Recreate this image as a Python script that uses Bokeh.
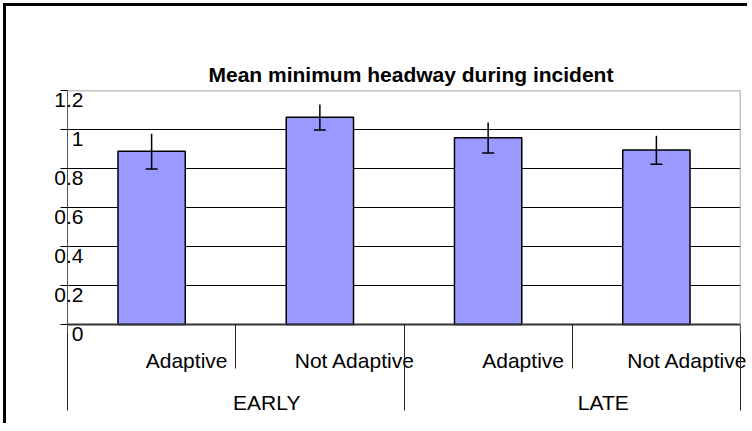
from bokeh.plotting import figure
from bokeh.models import (Range1d, ColumnDataSource, Whisker, TeeHead, Title,
                          FixedTicker, Span, LinearAxis, LinearScale)
from bokeh.embed import file_html
from bokeh.resources import INLINE

# ---- data ----
title_text = "Mean minimum headway during incident"
groups = ["EARLY", "EARLY", "LATE", "LATE"]
conditions = ["Adaptive", "Not Adaptive", "Adaptive", "Not Adaptive"]
means = [0.888, 1.063, 0.958, 0.895]
errors = [0.090, 0.065, 0.078, 0.073]
y_ticks = [0, 0.2, 0.4, 0.6, 0.8, 1.0, 1.2]
y_tick_labels = ["0", "0.2", "0.4", "0.6", "0.8", "1", "1.2"]
group_names = ["EARLY", "LATE"]

FONT = "Liberation Sans"

n = len(conditions)
# one unit per category; bar sits in the middle of its slot
slot_centers = [i + 0.5 for i in range(n)]
src = ColumnDataSource(dict(
    x=slot_centers, top=means,
    upper=[m + e for m, e in zip(means, errors)],
    lower=[m - e for m, e in zip(means, errors)],
))

# layout constants (pixels)
CAT_PX = (740 - 67) / n
PX_PER_UNIT = 195.0
LABEL_DROP = 9  # y tick labels sit just under their grid line
pad = LABEL_DROP / PX_PER_UNIT

p = figure(x_range=Range1d(0, n), y_range=Range1d(-pad, y_ticks[-1]),
           x_axis_location=None,
           width=744, height=420, output_backend="svg", toolbar_location=None,
           min_border_left=61, min_border_top=84, min_border_right=10, min_border_bottom=93)
p.styles = {"margin-left": "3px", "margin-top": "3px",
            "border-left": "3px solid black", "border-top": "3px solid black"}
p.background_fill_color = "white"
p.border_fill_color = "white"
p.outline_line_color = None
p.xgrid.visible = False

# the title, then an invisible spacer between it and the frame
p.add_layout(Title(text=title_text, align="left", offset=141,
                   text_font=FONT, text_font_size="21px", text_font_style="bold",
                   text_color="black"), "above")
p.add_layout(Title(text=" ", text_font_size="1px", text_color=None, standoff=32), "above")

# main y axis: tick marks only
ya = p.yaxis[0]
ya.ticker = FixedTicker(ticks=y_ticks, minor_ticks=[])
ya.major_label_text_font_size = "1px"
ya.major_label_text_color = None
ya.major_label_standoff = 0
ya.major_tick_out = 7
ya.major_tick_in = 0
ya.minor_tick_out = 0
ya.minor_tick_in = 0
ya.major_tick_line_color = "black"
ya.axis_line_color = "#555555"
p.ygrid.ticker = FixedTicker(ticks=y_ticks, minor_ticks=[])
p.ygrid.grid_line_color = "black"
p.ygrid.grid_line_width = 1

# label axis: same scale, shifted so labels hang below their grid lines
p.extra_y_ranges = {"lab": Range1d(0, y_ticks[-1] + pad)}
p.extra_y_scales = {"lab": LinearScale()}
yl = LinearAxis(y_range_name="lab",
                ticker=FixedTicker(ticks=y_ticks, minor_ticks=[]),
                major_label_overrides={t: s for t, s in zip(y_ticks, y_tick_labels)},
                major_tick_out=0, major_tick_in=0, minor_tick_out=0, minor_tick_in=0,
                axis_line_color=None, major_label_standoff=-23,
                major_label_text_font=FONT, major_label_text_font_size="21px",
                major_label_text_color="black")
p.add_layout(yl, "left")

# bars and error bars
p.vbar(x="x", top="top", width=0.4, bottom=0, source=src,
       fill_color="#9999FF", line_color="black", line_width=1.5)
p.add_layout(Span(location=0, dimension="width", line_color="#333333", line_width=2))
p.add_layout(Span(location=y_ticks[-1], dimension="width", line_color="#888888", line_width=1.5))
p.add_layout(Span(location=n, dimension="height", line_color="#888888", line_width=1.5))
p.add_layout(Whisker(base="x", upper="upper", lower="lower", source=src,
                     upper_head=None,
                     lower_head=TeeHead(size=12, line_width=1.5, line_color="black"),
                     line_width=1.5, line_color="black", level="overlay"))

# category axes
sub_pos = [round(c + 35 / CAT_PX, 4) for c in slot_centers]
axA = LinearAxis(ticker=FixedTicker(ticks=sub_pos, minor_ticks=list(range(n + 1))),
                 major_label_overrides={t: s for t, s in zip(sub_pos, conditions)},
                 major_tick_out=0, major_tick_in=0,
                 minor_tick_out=35, minor_tick_in=9, minor_tick_line_color="#222222",
                 axis_line_color=None, major_label_standoff=-20,
                 major_label_text_font=FONT, major_label_text_font_size="21px",
                 major_label_text_color="black")
p.add_layout(axA, "below")

grp_pos = [round(2 * i + 1 + 31 / CAT_PX, 4) for i in range(len(group_names))]
axB = LinearAxis(ticker=FixedTicker(ticks=grp_pos, minor_ticks=[0, n // 2, n]),
                 major_label_overrides={t: s for t, s in zip(grp_pos, group_names)},
                 major_tick_out=0, major_tick_in=0,
                 minor_tick_out=36, minor_tick_in=15, minor_tick_line_color="#222222",
                 axis_line_color=None, major_label_standoff=-20,
                 major_label_text_font=FONT, major_label_text_font_size="21px",
                 major_label_text_color="black")
p.add_layout(axB, "below")

open("out.html", "w").write(file_html(p, INLINE))
